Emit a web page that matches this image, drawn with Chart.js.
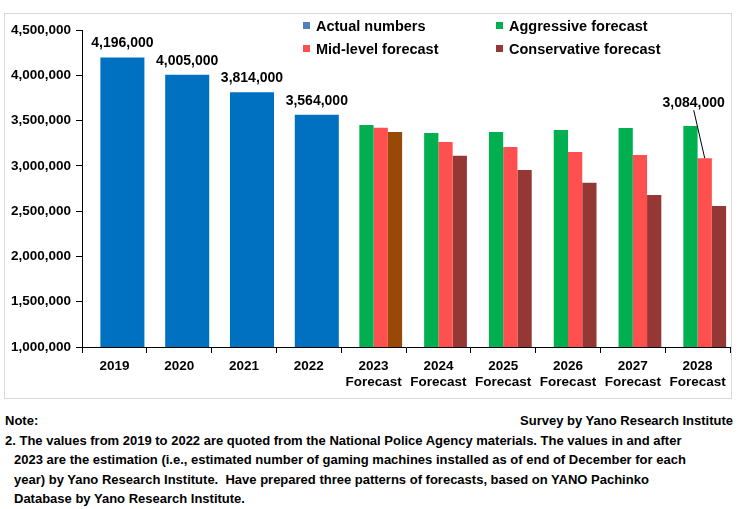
<!DOCTYPE html>
<html>
<head>
<meta charset="utf-8">
<script src="https://cdn.jsdelivr.net/npm/chart.js@4.4.1/dist/chart.umd.min.js"></script>
<style>
  body { margin: 0; background: #fff; font-family: "Liberation Sans", Arial, sans-serif; font-weight: bold; color: #000; }
  #wrap { position: relative; width: 738px; height: 509px; overflow: hidden; }
  #frame { position: absolute; left: 4px; top: 13px; width: 728px; height: 386px; border: 1px solid #d9d9d9; box-sizing: border-box; }
  #chart { position: absolute; left: 0; top: 0; }
  .lg { position: absolute; font-size: 14.5px; line-height: 16px; white-space: nowrap; }
  .lg i { display: inline-block; width: 7px; height: 7px; margin-right: 6px; vertical-align: 2px; }
  #notes { position: absolute; left: 5px; top: 411px; width: 728px; font-size: 13px; line-height: 19.5px; white-space: nowrap; }
  #notes .src { position: absolute; right: 0; top: 0; }
  #notes .ind { padding-left: 9px; }
</style>
</head>
<body>
<div id="wrap">
  <div id="frame"></div>
  <canvas id="chart" width="738" height="400"></canvas>
  <div class="lg" style="left:303px;top:18px"><i style="background:#4f81bd"></i>Actual numbers</div>
  <div class="lg" style="left:496px;top:18px"><i style="background:#00b050"></i>Aggressive forecast</div>
  <div class="lg" style="left:303px;top:41px"><i style="background:#ff5050"></i>Mid-level forecast</div>
  <div class="lg" style="left:496px;top:41px"><i style="background:#953735"></i>Conservative forecast</div>
  <div id="notes">
    <div>Note:</div>
    <div class="src">Survey by Yano Research Institute</div>
    <div>2. The values from 2019 to 2022 are quoted from the National Police Agency materials. The values in and after</div>
    <div class="ind">2023 are the estimation (i.e., estimated number of gaming machines installed as of end of December for each</div>
    <div class="ind">year) by Yano Research Institute.&nbsp; Have prepared three patterns of forecasts, based on YANO Pachinko</div>
    <div class="ind">Database by Yano Research Institute.</div>
  </div>
</div>
<script>
const years = ['2019', '2020', '2021', '2022', '2023', '2024', '2025', '2026', '2027', '2028'];
const actualNumbers = [4196000, 4005000, 3814000, 3564000, null, null, null, null, null, null];
const aggressive = [null, null, null, null, 3451000, 3363000, 3374000, 3396000, 3418000, 3440000];
const midLevel = [null, null, null, null, 3421000, 3263000, 3208000, 3153000, 3120000, 3084000];
const conservative = [null, null, null, null, 3374000, 3112000, 2954000, 2814000, 2678000, 2557000];
const yMin = 1000000;
const yMax = 4500000;
const yStep = 500000;

const labels = years.map((y, i) => actualNumbers[i] === null ? [y, 'Forecast'] : y);
const fmt = v => v.toLocaleString('en-US');
const FONT = '"Liberation Sans", Arial, sans-serif';

// invisible first slot in every group, so bars sit right of centre like the original
const emptySlot = years.map(() => 0);
// conservative 2023 is drawn in a brown tone, the rest dark red
const consColors = conservative.map((v, i) => i === 4 ? '#984807' : '#953735');

const valueLabels = {
    id: 'valueLabels',
    afterDatasetsDraw(chart) {
        const ctx = chart.ctx;
        ctx.save();
        ctx.font = 'bold 14px ' + FONT;
        ctx.fillStyle = '#000';
        ctx.textAlign = 'center';
        ctx.textBaseline = 'middle';
        chart.getDatasetMeta(1).data.forEach((bar, i) => {
            if (actualNumbers[i] === null) return;
            ctx.fillText(fmt(actualNumbers[i]), bar.x, bar.y - 14);
        });
        // last mid-level value with a leader line
        const last = midLevel.length - 1;
        const bar = chart.getDatasetMeta(3).data[last];
        ctx.fillText(fmt(midLevel[last]), bar.x - 11, bar.y - 55);
        ctx.strokeStyle = '#000';
        ctx.lineWidth = 1;
        ctx.beginPath();
        ctx.moveTo(bar.x - 11, bar.y - 48);
        ctx.lineTo(bar.x, bar.y);
        ctx.stroke();
        ctx.restore();
    }
};

const fc = { skipNull: true, categoryPercentage: 0.88, barPercentage: 1 };

new Chart(document.getElementById('chart').getContext('2d'), {
    type: 'bar',
    data: {
        labels: labels,
        datasets: [
            { label: '', data: emptySlot, backgroundColor: 'rgba(0,0,0,0)', ...fc },
            { label: 'Actual numbers', data: actualNumbers, backgroundColor: '#0070c0', skipNull: true, categoryPercentage: 0.494, barPercentage: 2.75 },
            { label: 'Aggressive forecast', data: aggressive, backgroundColor: '#00b050', ...fc },
            { label: 'Mid-level forecast', data: midLevel, backgroundColor: '#ff5050', ...fc },
            { label: 'Conservative forecast', data: conservative, backgroundColor: consColors, ...fc }
        ]
    },
    options: {
        responsive: false,
        animation: false,
        layout: { padding: { top: 30, right: 8, left: 0, bottom: 0 } },
        plugins: { legend: { display: false }, tooltip: { enabled: false } },
        scales: {
            x: {
                offset: true,
                grid: { offset: true, drawOnChartArea: false, drawTicks: true, tickLength: 6, color: '#000' },
                border: { color: '#000' },
                ticks: { color: '#000', padding: 5, maxRotation: 0, autoSkip: false, font: { family: FONT, weight: 'bold', size: 13.5, lineHeight: 1.2 } },
                afterFit: s => { s.height = 53; }
            },
            y: {
                min: yMin,
                max: yMax,
                grid: { drawOnChartArea: false, drawTicks: true, tickLength: 6, color: '#000' },
                border: { color: '#000' },
                ticks: { stepSize: yStep, color: '#000', padding: 5, callback: v => fmt(v), font: { family: FONT, weight: 'bold', size: 13.5 } },
                afterFit: s => { s.width = 82; }
            }
        }
    },
    plugins: [valueLabels]
});
</script>
</body>
</html>
